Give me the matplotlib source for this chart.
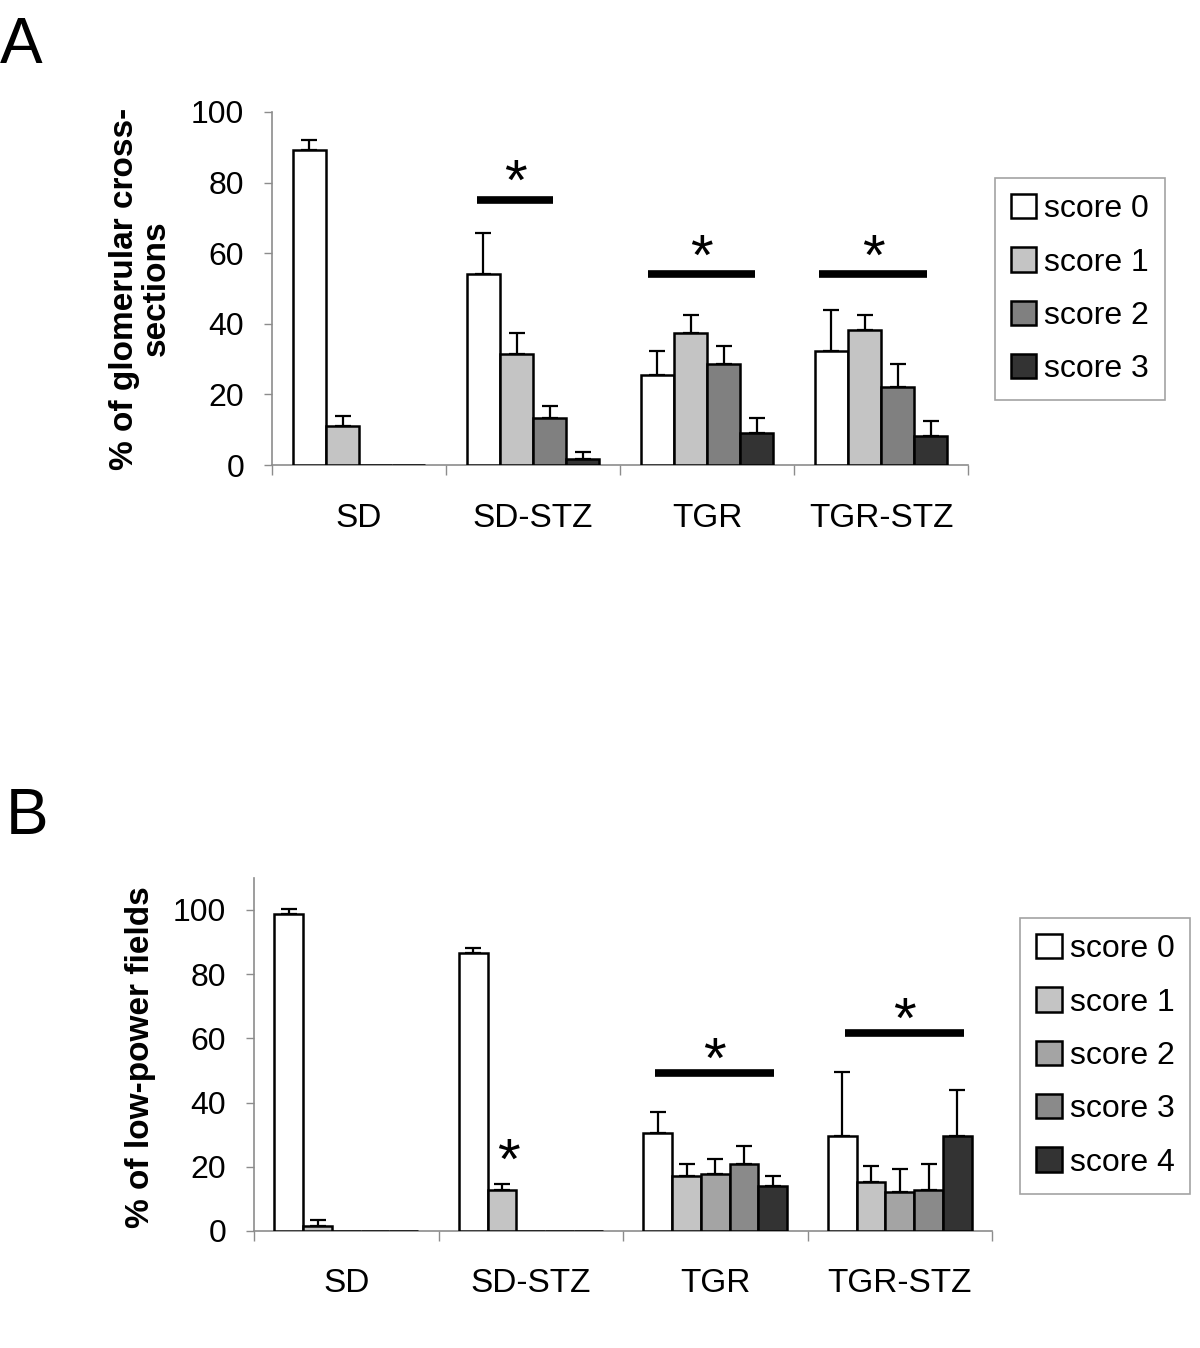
import numpy as np
import matplotlib.pyplot as plt

plt.rcParams['font.family'] = ['Liberation Sans', 'DejaVu Sans']

# Datos
grupos = ['SD', 'SD-STZ', 'TGR', 'TGR-STZ']

# Panel A: % de secciones glomerulares (media y error)
a_series = ['score 0', 'score 1', 'score 2', 'score 3']
a_media = [
    [89.1, 54.2, 25.6, 32.2],
    [11.0, 31.5, 37.3, 38.1],
    [0.0, 13.3, 28.6, 22.0],
    [0.0, 1.6, 9.0, 8.1],
]
a_error = [
    [2.9, 11.5, 6.6, 11.6],
    [3.0, 5.8, 5.2, 4.4],
    [0.0, 3.5, 5.0, 6.5],
    [0.0, 2.2, 4.2, 4.5],
]
a_sig_grupos = [1, 2, 3]
a_sig_y = [75.0, 54.0, 54.0]

# Panel B: % de campos de bajo aumento
b_series = ['score 0', 'score 1', 'score 2', 'score 3', 'score 4']
b_media = [
    [98.7, 86.6, 30.5, 29.7],
    [1.7, 12.8, 17.0, 15.2],
    [0.0, 0.0, 17.6, 12.1],
    [0.0, 0.0, 20.9, 12.8],
    [0.0, 0.0, 13.9, 29.7],
]
b_error = [
    [1.5, 1.5, 6.5, 19.9],
    [1.6, 1.7, 3.9, 5.0],
    [0.0, 0.0, 4.9, 7.1],
    [0.0, 0.0, 5.6, 8.1],
    [0.0, 0.0, 3.1, 14.3],
]
b_sig_grupos = [2, 3]
b_sig_y = [49.1, 61.6]
b_star_grupo = 1
b_star_y = 24.5

a_colores = ['white', '#c4c4c4', '#808080', '#333333']
b_colores = ['white', '#c4c4c4', '#a4a4a4', '#8a8a8a', '#333333']

# posiciones de las lineas de significancia (relativas al centro del grupo)
a_sig_span = [(-0.32, 0.115), (-0.34, 0.277), (-0.356, 0.264)]
b_sig_span = [(-0.329, 0.318), (-0.299, 0.348)]

fig = plt.figure(figsize=(12, 13.48), dpi=100)
gris = '#8c8c8c'


def panel(ax, medias, errores, colores, nombres, ancho, ytop):
    x = np.arange(len(grupos))
    n = len(medias)
    for i in range(n):
        pos = x + (i - (n - 1) / 2) * ancho
        ax.bar(pos, medias[i], width=ancho, color=colores[i],
               edgecolor='black', linewidth=1.8, zorder=3, label=nombres[i])
        err = np.array(errores[i])
        med = np.array(medias[i])
        m = err > 0
        ax.errorbar(pos[m], med[m], yerr=[np.zeros(m.sum()), err[m]],
                    fmt='none', ecolor='black', elinewidth=1.6,
                    capsize=6, capthick=1.6, zorder=2)
    ax.set_xlim(-0.5, len(grupos) - 0.5)
    ax.set_ylim(0, ytop)
    ax.set_yticks([0, 20, 40, 60, 80, 100])
    ax.set_xticks(x)
    ax.set_xticklabels(grupos)
    ax.set_xticks(np.arange(len(grupos) + 1) - 0.5, minor=True)
    ax.tick_params(axis='x', which='major', length=0, pad=27, labelsize=24)
    ax.tick_params(axis='x', which='minor', length=7, color=gris, width=1)
    ax.tick_params(axis='y', length=6, color=gris, width=1, labelsize=23, pad=14)
    for s in ['top', 'right']:
        ax.spines[s].set_visible(False)
    for s in ['left', 'bottom']:
        ax.spines[s].set_color(gris)
        ax.spines[s].set_linewidth(1.2)
    return x


def estrella(ax, x, y, dy):
    ax.annotate('*', (x, y), xytext=(0, dy), textcoords='offset points',
                fontsize=42, ha='center', va='baseline', zorder=4)


def leyenda(ax, anchor):
    leg = ax.legend(loc='upper left', bbox_to_anchor=anchor,
                    bbox_transform=fig.transFigure, fontsize=23, frameon=True,
                    fancybox=False, edgecolor=gris, handlelength=0.8,
                    handleheight=0.8, handletextpad=0.25, labelspacing=0.72,
                    borderpad=0.5, borderaxespad=0)
    leg.get_frame().set_linewidth(1.2)


# Panel A
axA = fig.add_axes([0.2267, 0.655, 0.58, 0.262])
xa = panel(axA, a_media, a_error, a_colores, a_series, 0.19, 100)
axA.set_ylabel('% of glomerular cross-\nsections', fontsize=24,
               fontweight='bold', linespacing=1.05)
axA.yaxis.set_label_coords(-0.144, 0.5)
for g, y, (l, r) in zip(a_sig_grupos, a_sig_y, a_sig_span):
    axA.plot([xa[g] + l, xa[g] + r], [y, y], color='black', lw=5.5,
             solid_capstyle='butt', zorder=4)
    estrella(axA, xa[g] + (l + r) / 2, y, 0)
leyenda(axA, (0.829, 0.868))
fig.text(0.0, 0.966, 'A', fontsize=46, va='center', ha='left')

# Panel B
axB = fig.add_axes([0.2117, 0.0868, 0.615, 0.262])
xb = panel(axB, b_media, b_error, b_colores, b_series, 0.156, 110)
axB.set_ylabel('% of low-power fields', fontsize=24, fontweight='bold')
axB.yaxis.set_label_coords(-0.133, 0.493)
for g, y, (l, r) in zip(b_sig_grupos, b_sig_y, b_sig_span):
    axB.plot([xb[g] + l, xb[g] + r], [y, y], color='black', lw=5.5,
             solid_capstyle='butt', zorder=4)
    estrella(axB, xb[g] + (l + r) / 2, y, -3)
estrella(axB, xb[b_star_grupo] - 0.12, b_star_y, -19)
leyenda(axB, (0.85, 0.319))
fig.text(0.005, 0.394, 'B', fontsize=46, va='center', ha='left')

fig.savefig('out.png', dpi=100)
